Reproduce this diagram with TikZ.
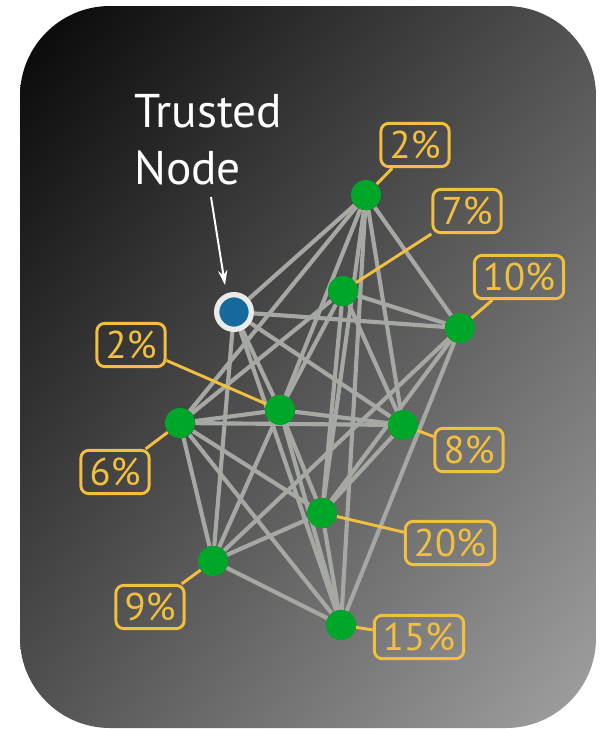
\documentclass[tikz,border=0pt]{standalone}
\usepackage{fontspec}
\setmainfont{PT Sans}
\usetikzlibrary{arrows.meta,shadings}
\definecolor{nodegreen}{HTML}{00A628}
\definecolor{trustblue}{HTML}{15699C}
\definecolor{ringwhite}{HTML}{E9EBE9}
\definecolor{edgegray}{HTML}{A6A9A3}
\definecolor{tagyellow}{HTML}{F2BF3F}
\definecolor{bgdark}{HTML}{060606}
\definecolor{bgmid}{HTML}{525252}
\definecolor{bglight}{HTML}{A2A2A2}
\pgfdeclarelayer{back}
\pgfdeclarelayer{links}
\pgfsetlayers{back,links,main}

\begin{document}
\begin{tikzpicture}[x=0.75pt,y=-0.75pt,
  peer/.style={circle,fill=nodegreen,minimum size=22.5pt,inner sep=0pt},
  trusted/.style={circle,fill=trustblue,draw=ringwhite,line width=4pt,minimum size=26pt,inner sep=0pt},
  tag/.style={draw=tagyellow,text=tagyellow,line width=2.2pt,rounded corners=6pt,
    minimum height=32.5pt,inner xsep=6.5pt,inner ysep=0pt,font=\fontsize{29}{31}\selectfont},
  link/.style={draw=edgegray,line width=3.1pt},
  leader/.style={draw=tagyellow,line width=2.2pt}]

\useasboundingbox (0,0) rectangle (601,729);

% panel background
\begin{pgfonlayer}{back}
  \shade[rounded corners=67.5pt,upper left=bgdark,upper right=bgmid,
         lower left=bgmid,lower right=bglight] (20,6) rectangle (596,728);
\end{pgfonlayer}

% network nodes
\node[trusted] (T) at (234,312) {};
\node[peer] (A) at (366,195) {};
\node[peer] (B) at (343,291) {};
\node[peer] (C) at (460,328) {};
\node[peer] (D) at (280,410) {};
\node[peer] (E) at (180,423) {};
\node[peer] (F) at (403,425) {};
\node[peer] (G) at (322,513) {};
\node[peer] (H) at (213,561) {};
\node[peer] (I) at (341,625) {};

% percentage tags
\node[tag] (tA) at (415,145) {2\%};
\node[tag] (tB) at (467,211) {7\%};
\node[tag] (tC) at (519,277) {10\%};
\node[tag] (tD) at (131,345) {2\%};
\node[tag] (tE) at (115,472) {6\%};
\node[tag] (tF) at (469,450) {8\%};
\node[tag] (tG) at (450,543) {20\%};
\node[tag] (tH) at (150,607) {9\%};
\node[tag] (tI) at (419,637) {15\%};

% links between nodes
\begin{pgfonlayer}{links}
  \foreach \u/\v in {A/T,A/E,A/D,A/G,A/I,A/F,A/C,
                     T/C,T/F,T/H,T/D,T/I,
                     B/C,B/E,B/D,B/F,B/G,
                     C/H,C/I,C/G,
                     D/E,D/F,D/G,D/I,D/H,
                     E/F,E/H,E/G,E/I,
                     F/G,G/H,G/I,H/I}
    \draw[link] (\u) -- (\v);
  \foreach \n in {A,B,C,D,E,F,G,H,I}
    \draw[leader] (\n) -- (t\n);
\end{pgfonlayer}

% caption with pointer
\node[anchor=north west,inner sep=0pt,align=left,text=white,
      font=\fontsize{35.5}{43}\selectfont] (caption) at (134,94) {Trusted\\Node};
\coordinate (ptrtail) at (211,197);
\coordinate (ptrhead) at (225,285);
\draw[white,line width=1.5pt,-{Stealth[length=11pt,width=7pt]}] (ptrtail) -- (ptrhead);

\end{tikzpicture}
\end{document}
